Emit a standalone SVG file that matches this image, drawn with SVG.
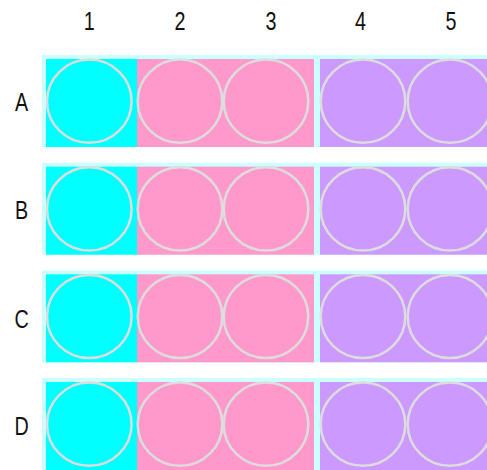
<svg xmlns="http://www.w3.org/2000/svg" width="487" height="470" viewBox="0 0 487 470">
<style>
.lbl{font-family:"Liberation Sans",Arial,sans-serif;font-size:26px;fill:#111;text-anchor:middle}
.strip{fill:#ccffff}
.c1{fill:#00ffff}
.c2{fill:#ff99cc}
.c3{fill:#cc99ff}
.well{fill:none;stroke:#dddddd;stroke-width:2.5}
</style>
<defs>
<g id="row">
<rect class="strip" x="42" y="0" width="445" height="92"/>
<rect class="c1" x="46" y="4" width="91" height="88"/>
<rect class="c2" x="137" y="4" width="177" height="88"/>
<rect class="c3" x="320" y="4" width="167" height="88"/>
<ellipse class="well" cx="89.3" cy="46.2" rx="42.3" ry="41.6"/>
<ellipse class="well" cx="180" cy="46.2" rx="42.3" ry="41.6"/>
<ellipse class="well" cx="266" cy="46.2" rx="42.3" ry="41.6"/>
<ellipse class="well" cx="363" cy="46.2" rx="42.3" ry="41.6"/>
<ellipse class="well" cx="450" cy="46.2" rx="42.3" ry="41.6"/>
</g>
</defs>
<g id="col-labels">
<text class="lbl" transform="translate(89.3,30) scale(0.76,1)">1</text>
<text class="lbl" transform="translate(180,30) scale(0.76,1)">2</text>
<text class="lbl" transform="translate(271,30) scale(0.76,1)">3</text>
<text class="lbl" transform="translate(360.5,30) scale(0.76,1)">4</text>
<text class="lbl" transform="translate(451,30) scale(0.76,1)">5</text>
</g>
<g id="rowA"><use href="#row" y="55"/><text class="lbl" transform="translate(21.7,110.5) scale(0.76,1)">A</text></g>
<g id="rowB"><use href="#row" y="162.7"/><text class="lbl" transform="translate(21.7,219) scale(0.76,1)">B</text></g>
<g id="rowC"><use href="#row" y="270.3"/><text class="lbl" transform="translate(21.7,327.5) scale(0.76,1)">C</text></g>
<g id="rowD"><use href="#row" y="378"/><text class="lbl" transform="translate(21.7,434.5) scale(0.76,1)">D</text></g>
<g id="connectors"/>
</svg>
